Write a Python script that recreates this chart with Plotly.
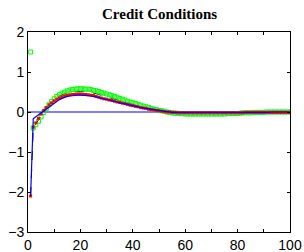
import plotly.graph_objects as go

periods = list(range(1, 101))

red_vals = [-2.10, -0.38, -0.27, -0.16, -0.05, 0.04, 0.11, 0.18, 0.23, 0.28,
            0.32, 0.35, 0.38, 0.40, 0.42, 0.43, 0.44, 0.44, 0.45, 0.45,
            0.44, 0.44, 0.43, 0.42, 0.41, 0.39, 0.37, 0.35, 0.33, 0.32,
            0.30, 0.29, 0.27, 0.25, 0.24, 0.22, 0.21, 0.19, 0.17, 0.16,
            0.14, 0.13, 0.11, 0.10, 0.09, 0.07, 0.06, 0.05, 0.04, 0.03,
            0.02, 0.01, 0.00, 0.00, -0.01, -0.01, -0.02, -0.02, -0.02, -0.02,
            -0.02, -0.02, -0.02, -0.02, -0.02, -0.02, -0.02, -0.02, -0.02, -0.02,
            -0.02, -0.02, -0.02, -0.02, -0.02, -0.02, -0.02, -0.02, -0.02, -0.02,
            -0.02, -0.02, -0.01, -0.01, -0.01, -0.01, -0.01, -0.01, -0.01, -0.01,
            -0.01, -0.01, -0.01, -0.01, -0.01, -0.01, -0.01, -0.01, -0.01, -0.01]

green_vals = [1.50, -0.40, -0.32, -0.23, -0.12, -0.01, 0.09, 0.18, 0.26, 0.33,
              0.39, 0.43, 0.47, 0.50, 0.53, 0.55, 0.56, 0.57, 0.58, 0.58,
              0.58, 0.57, 0.57, 0.56, 0.54, 0.53, 0.51, 0.49, 0.47, 0.45,
              0.43, 0.41, 0.39, 0.37, 0.34, 0.32, 0.30, 0.27, 0.25, 0.23,
              0.21, 0.19, 0.17, 0.15, 0.13, 0.11, 0.09, 0.07, 0.06, 0.04,
              0.03, 0.02, 0.00, -0.01, -0.02, -0.03, -0.03, -0.04, -0.04, -0.05,
              -0.05, -0.05, -0.05, -0.05, -0.05, -0.05, -0.05, -0.05, -0.05, -0.05,
              -0.05, -0.05, -0.05, -0.05, -0.05, -0.04, -0.04, -0.04, -0.04, -0.04,
              -0.03, -0.02, -0.02, -0.02, -0.02, -0.01, -0.01, -0.01, -0.01, -0.01,
              0.00, 0.00, 0.00, 0.00, 0.00, 0.00, 0.00, 0.00, 0.00, 0.00]

blue_vals = [-2.10, -0.17, -0.12, -0.07, -0.03, 0.02, 0.07, 0.13, 0.18, 0.23,
             0.27, 0.31, 0.34, 0.37, 0.39, 0.40, 0.41, 0.42, 0.42, 0.42,
             0.42, 0.42, 0.41, 0.40, 0.39, 0.38, 0.36, 0.34, 0.33, 0.31,
             0.30, 0.28, 0.27, 0.25, 0.23, 0.22, 0.20, 0.19, 0.17, 0.16,
             0.14, 0.13, 0.11, 0.10, 0.09, 0.07, 0.06, 0.05, 0.04, 0.03,
             0.02, 0.01, 0.00, 0.00, -0.01, -0.01, -0.01, -0.02, -0.02, -0.02,
             -0.02, -0.02, -0.02, -0.02, -0.02, -0.02, -0.02, -0.02, -0.02, -0.02,
             -0.02, -0.02, -0.02, -0.02, -0.02, -0.02, -0.02, -0.01, -0.01, -0.01,
             -0.01, -0.01, -0.01, -0.01, -0.01, -0.01, -0.01, -0.01, -0.01, -0.01,
             -0.01, -0.01, 0.00, 0.00, 0.00, 0.00, 0.00, 0.00, 0.00, 0.00]

black_vals = [-2.10, -0.40, -0.30, -0.19, -0.09, 0.01, 0.10, 0.18, 0.25, 0.31,
              0.36, 0.40, 0.43, 0.46, 0.48, 0.49, 0.50, 0.51, 0.51, 0.51,
              0.51, 0.51, 0.50, 0.49, 0.48, 0.46, 0.44, 0.42, 0.40, 0.39,
              0.37, 0.35, 0.33, 0.31, 0.29, 0.27, 0.25, 0.23, 0.21, 0.19,
              0.17, 0.16, 0.14, 0.12, 0.11, 0.09, 0.08, 0.06, 0.05, 0.04,
              0.02, 0.01, 0.00, -0.01, -0.01, -0.02, -0.02, -0.03, -0.03, -0.03,
              -0.03, -0.03, -0.03, -0.03, -0.03, -0.03, -0.03, -0.03, -0.03, -0.03,
              -0.03, -0.03, -0.03, -0.03, -0.03, -0.03, -0.03, -0.03, -0.03, -0.03,
              -0.02, -0.02, -0.02, -0.02, -0.02, -0.01, -0.01, -0.01, -0.01, -0.01,
              -0.01, -0.01, -0.01, 0.00, 0.00, 0.00, 0.00, 0.00, 0.00, 0.00]

zero_x = [0, 100]
zero_y = [0, 0]

x_tickvals = [0, 10, 20, 30, 40, 50, 60, 70, 80, 90, 100]
x_ticktext = ["0", "", "20", "", "40", "", "60", "", "80", "", "100"]
y_tickvals = [-3, -2, -1, 0, 1, 2]
y_ticktext = ["\u22123", "\u22122", "\u22121", "0", "1", "2"]

fig = go.Figure()
fig.add_trace(go.Scatter(x=zero_x, y=zero_y, mode="lines",
                         line=dict(color="#0000ff", width=1), showlegend=False))
fig.add_trace(go.Scatter(x=periods, y=black_vals, mode="lines",
                         line=dict(color="#000000", width=1, dash="dash"), showlegend=False))
fig.add_trace(go.Scatter(x=periods, y=green_vals, mode="markers",
                         marker=dict(symbol="square-open", size=4, color="#00ff00",
                                     line=dict(width=1, color="#00ff00")), showlegend=False))
fig.add_trace(go.Scatter(x=periods, y=red_vals, mode="markers",
                         marker=dict(symbol="square", size=3, color="#ff0000",
                                     line=dict(width=0)), showlegend=False))
fig.add_trace(go.Scatter(x=periods, y=blue_vals, mode="lines",
                         line=dict(color="#0000ff", width=1.2), showlegend=False))

axis_font = dict(family="Liberation Sans, Arial, sans-serif", size=14, color="#000000")
fig.update_layout(
    width=304, height=252,
    margin=dict(l=28, r=14, t=32, b=20, autoexpand=False),
    paper_bgcolor="#ffffff", plot_bgcolor="#ffffff",
    title=dict(text="<b>Credit Conditions</b>", x=0.525, xanchor="center", y=0.945, yanchor="middle",
               font=dict(family="Liberation Serif, Times New Roman, serif", size=15, color="#000000")),
    xaxis=dict(range=[0, 100], tickvals=x_tickvals, ticktext=x_ticktext, ticks="inside",
               ticklen=3, tickcolor="#000000", showline=True, linecolor="#000000", linewidth=1,
               mirror="ticks", showgrid=False, zeroline=False, tickfont=axis_font, automargin=False),
    yaxis=dict(range=[-3, 2], tickvals=y_tickvals, ticktext=y_ticktext, ticks="inside",
               ticklen=3, tickcolor="#000000", showline=True, linecolor="#000000", linewidth=1,
               mirror="ticks", showgrid=False, zeroline=False, tickfont=axis_font, automargin=False),
)

fig.write_html("out.html", config={"displayModeBar": False},
               post_script="document.body.style.margin='0';document.body.style.overflow='hidden';")
